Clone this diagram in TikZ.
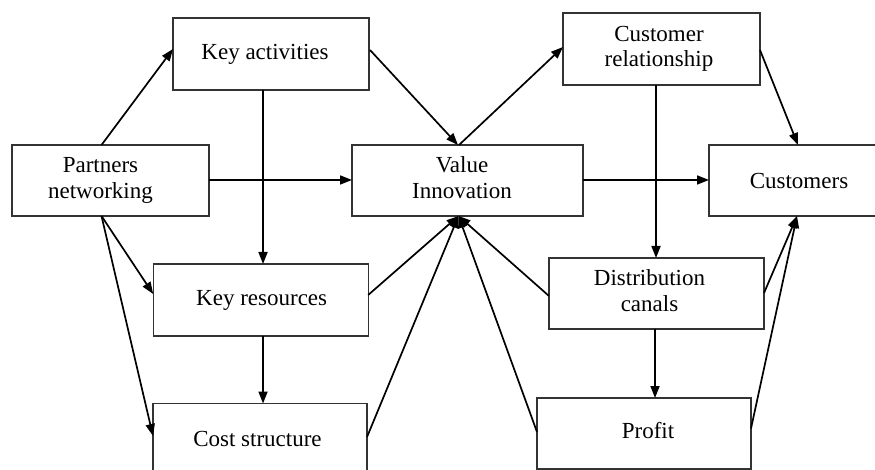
\documentclass[tikz,border=0pt]{standalone}
\usepackage{fontspec}
\setmainfont{Liberation Serif}
\usetikzlibrary{arrows.meta,calc}
\newcommand\tbx[2]{\kern#1\begin{tabular}{@{}c@{}}#2\end{tabular}}
\begin{document}
\begin{tikzpicture}[x=1pt,y=-1pt,
  box/.style={draw=black!80,line width=1.2pt,fill=white,rectangle,outer sep=0pt,inner sep=0pt,
    font=\fontsize{23}{25.5}\selectfont,align=center},
  arr/.style={draw=black,line width=1.7pt,-{Triangle[length=12pt,width=9pt]}}]
\useasboundingbox[fill=white] (0,0) rectangle (875,470);
\node[box,minimum width=196pt,minimum height=72pt] (ka) at (271,54) {\tbx{-12pt}{Key activities}};
\node[box,minimum width=197pt,minimum height=71pt] (pn) at (110.5,180.5) {\tbx{-20pt}{Partners\\networking}};
\node[box,minimum width=231pt,minimum height=71pt] (vi) at (467.5,180.5) {\tbx{-11pt}{Value\\Innovation}};
\node[box,minimum width=197pt,minimum height=72pt] (cr) at (661.5,49) {\tbx{-5pt}{Customer\\relationship}};
\node[box,minimum width=180pt,minimum height=71pt] (cu) at (799,180.5) {Customers};
\node[box,minimum width=215pt,minimum height=72pt] (kr) at (260.7,300) {\tbx{2pt}{Key resources}};
\node[box,minimum width=215pt,minimum height=71pt] (dc) at (656.5,293.5) {\tbx{-14pt}{Distribution\\canals}};
\node[box,minimum width=214pt,minimum height=75pt] (cs) at (260,441) {\tbx{-5pt}{Cost structure}};
\node[box,minimum width=214pt,minimum height=71pt] (pr) at (644,433.5) {\tbx{8pt}{Profit}};

\draw[arr] ($(pn.north)+(-9,0)$) -- ($(ka.west)+(0,-5)$);
\draw[arr] ($(ka.east)+(1,-4)$) -- ($(vi.north)+(-9.5,0)$);
\draw[arr] ($(pn.east)+(0,-0.5)$) -- ($(vi.west)+(0,-0.5)$);
\draw[arr] ($(ka.south)+(-8,0)$) coordinate (t1) -- (t1 |- kr.north);
\draw[arr] ($(vi.north)+(-8.5,0)$) -- ($(cr.west)+(0,-2)$);
\draw[arr] ($(cr.east)+(0,1)$) -- ($(cu.north)+(-1,0)$);
\draw[arr] ($(vi.east)+(0,-0.5)$) -- ($(cu.west)+(0,-0.5)$);
\draw[arr] ($(cr.south)+(-5.5,0)$) coordinate (t2) -- (t2 |- dc.north);
\draw[arr] ($(pn.south)+(-9,0)$) -- ($(kr.west)+(0,-6)$);
\draw[arr] ($(pn.south)+(-9,0)$) -- ($(cs.west)+(0,-5)$);
\draw[arr] ($(kr.south)+(2.3,0)$) coordinate (t3) -- (t3 |- cs.north);
\draw[arr] ($(kr.east)+(0,-5)$) -- ($(vi.south)+(-9,0)$);
\draw[arr] ($(cs.east)+(0,-4)$) -- ($(vi.south)+(-9,0)$);
\draw[arr] ($(dc.west)+(0,2.5)$) -- ($(vi.south)+(-9,0)$);
\draw[arr] ($(pr.west)+(0,-1.5)$) -- ($(vi.south)+(-9,0)$);
\draw[arr] ($(dc.south)+(-1.5,0)$) coordinate (t4) -- (t4 |- pr.north);
\draw[arr] ($(dc.east)+(0,-0.5)$) -- ($(cu.south)+(-2,0)$);
\draw[arr] ($(pr.east)+(0,-5)$) -- ($(cu.south)+(-2,0)$);
\end{tikzpicture}
\end{document}
